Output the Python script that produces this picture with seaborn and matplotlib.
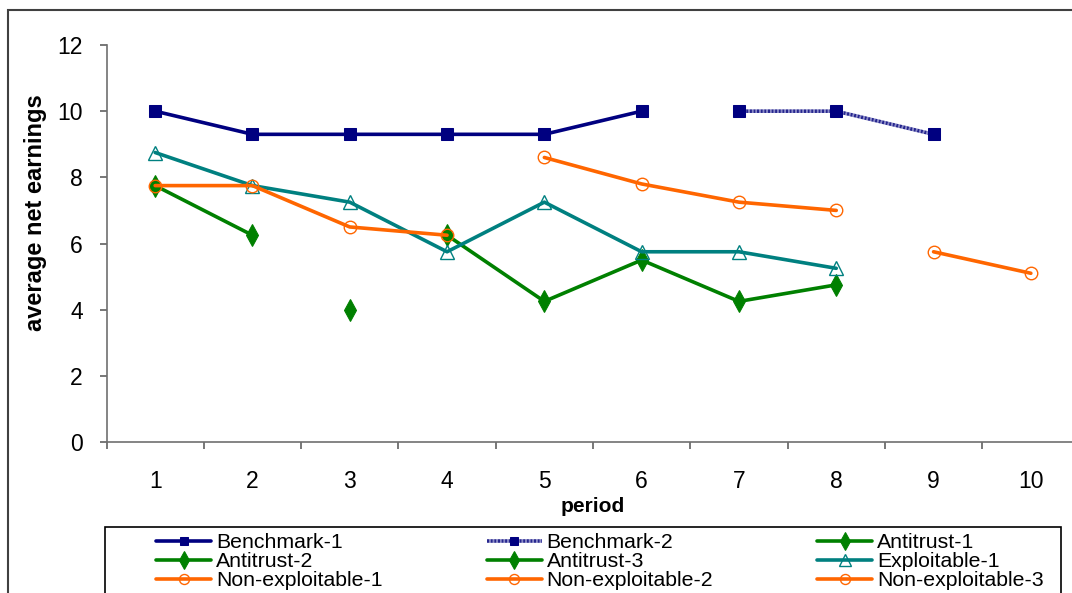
import matplotlib
matplotlib.use("Agg")
import matplotlib.pyplot as plt
from matplotlib.patches import Rectangle
import seaborn as sns

# series, each over its own periods
bench1_x = [1, 2, 3, 4, 5, 6]
bench1_y = [10, 9.3, 9.3, 9.3, 9.3, 10]
bench2_x = [7, 8, 9]
bench2_y = [10, 10, 9.3]
anti1_x = [1, 2]
anti1_y = [7.75, 6.25]
anti2_x = [3]
anti2_y = [4.0]
anti3_x = [4, 5, 6, 7, 8]
anti3_y = [6.25, 4.25, 5.5, 4.25, 4.75]
expl1_x = [1, 2, 3, 4, 5, 6, 7, 8]
expl1_y = [8.75, 7.75, 7.25, 5.75, 7.25, 5.75, 5.75, 5.25]
nonex1_x = [1, 2, 3, 4]
nonex1_y = [7.75, 7.75, 6.5, 6.25]
nonex2_x = [5, 6, 7, 8]
nonex2_y = [8.6, 7.8, 7.25, 7.0]
nonex3_x = [9, 10]
nonex3_y = [5.75, 5.1]

periods = [1, 2, 3, 4, 5, 6, 7, 8, 9, 10]
y_ticks = [0, 2, 4, 6, 8, 10, 12]

sns.set_style("white")
plt.rcParams['font.family'] = ['Liberation Sans', 'DejaVu Sans']
plt.rcParams['text.color'] = 'black'
plt.rcParams['xtick.color'] = 'black'
plt.rcParams['ytick.color'] = 'black'
plt.rcParams['axes.labelcolor'] = 'black'

navy = "#000080"
green = "#008000"
teal = "#008080"
orange = "#FF6600"

fig = plt.figure(figsize=(10.72, 5.93), dpi=100)
ax = fig.add_axes([106.5 / 1072, 1 - 442 / 593, 973 / 1072, 397 / 593])

series = [
    ("Benchmark-1", bench1_x, bench1_y, dict(color=navy, marker="s", markersize=8,
                                             markerfacecolor=navy, markeredgecolor=navy)),
    ("Benchmark-2", bench2_x, bench2_y, dict(color="#26268f", marker="s", markersize=8,
                                             markerfacecolor=navy, markeredgecolor=navy,
                                             linestyle=(0, (0.6, 0.4)), gapcolor="#8a8ac8")),
    ("Antitrust-1", anti1_x, anti1_y, dict(color=green, marker="d", markersize=11,
                                           markerfacecolor=green, markeredgecolor=green)),
    ("Antitrust-2", anti2_x, anti2_y, dict(color=green, marker="d", markersize=11,
                                           markerfacecolor=green, markeredgecolor=green)),
    ("Antitrust-3", anti3_x, anti3_y, dict(color=green, marker="d", markersize=11,
                                           markerfacecolor=green, markeredgecolor=green)),
    ("Exploitable-1", expl1_x, expl1_y, dict(color=teal, marker="^", markersize=10,
                                             markerfacecolor="none", markeredgecolor=teal,
                                             markeredgewidth=1)),
    ("Non-exploitable-1", nonex1_x, nonex1_y, dict(color=orange, marker="o", markersize=9,
                                                   markerfacecolor="none", markeredgecolor=orange,
                                                   markeredgewidth=1)),
    ("Non-exploitable-2", nonex2_x, nonex2_y, dict(color=orange, marker="o", markersize=9,
                                                   markerfacecolor="none", markeredgecolor=orange,
                                                   markeredgewidth=1)),
    ("Non-exploitable-3", nonex3_x, nonex3_y, dict(color=orange, marker="o", markersize=9,
                                                   markerfacecolor="none", markeredgecolor=orange,
                                                   markeredgewidth=1)),
]

handles = {}
for name, xs, ys, style in series:
    n_before = len(ax.lines)
    sns.lineplot(x=xs, y=ys, ax=ax, linewidth=2.6, legend=False, **style)
    line = ax.lines[n_before]
    line.set_label(name)
    handles[name] = line

ax.set_xlim(0.5, 10.5)
ax.set_ylim(0, 12)
ax.set_xticks(periods)
ax.set_xticks([p + 0.5 for p in [0] + periods], minor=True)
ax.set_yticks(y_ticks)
ax.tick_params(axis="x", which="major", length=0, pad=20, labelsize=16.5)
ax.tick_params(axis="x", which="minor", length=5, width=1.2, color="#606060",
               direction="out", bottom=True)
ax.tick_params(axis="y", which="major", length=5, width=1.2, color="#606060",
               direction="out", pad=12, labelsize=16.5, left=True)

for side in ["top", "right"]:
    ax.spines[side].set_visible(False)
for side in ["left", "bottom"]:
    ax.spines[side].set_color("#707070")
    ax.spines[side].set_linewidth(1.2)

ax.set_xlabel("period", fontsize=15, fontweight="bold", labelpad=3)
ax.set_ylabel("average net earnings", fontsize=17, fontweight="bold")
ax.yaxis.set_label_coords(-0.061, 0.577)

# legend in Excel row order, matplotlib fills columns first
order = ["Benchmark-1", "Antitrust-2", "Non-exploitable-1",
         "Benchmark-2", "Antitrust-3", "Non-exploitable-2",
         "Antitrust-1", "Exploitable-1", "Non-exploitable-3"]
fig.legend([handles[k] for k in order], order, ncol=3, frameon=False,
           loc="upper left", bbox_to_anchor=(156 / 1072, 1 - 533 / 593),
           fontsize=15.3, borderpad=0, handlelength=2.6, handletextpad=0.22,
           columnspacing=4.9, labelspacing=0.0, borderaxespad=0, markerscale=0.8)

# legend box and outer chart frame
fig.patches.append(Rectangle((105 / 1072, -0.1), (1061 - 105) / 1072, 0.1 + 1 - 527 / 593,
                             transform=fig.transFigure, fill=False, edgecolor="black",
                             linewidth=1.2))
fig.patches.append(Rectangle((8 / 1072, -0.1), 1.2, 0.1 + 1 - 10 / 593,
                             transform=fig.transFigure, fill=False, edgecolor="#404040",
                             linewidth=1.5))

plt.savefig("out.png", dpi=100)
